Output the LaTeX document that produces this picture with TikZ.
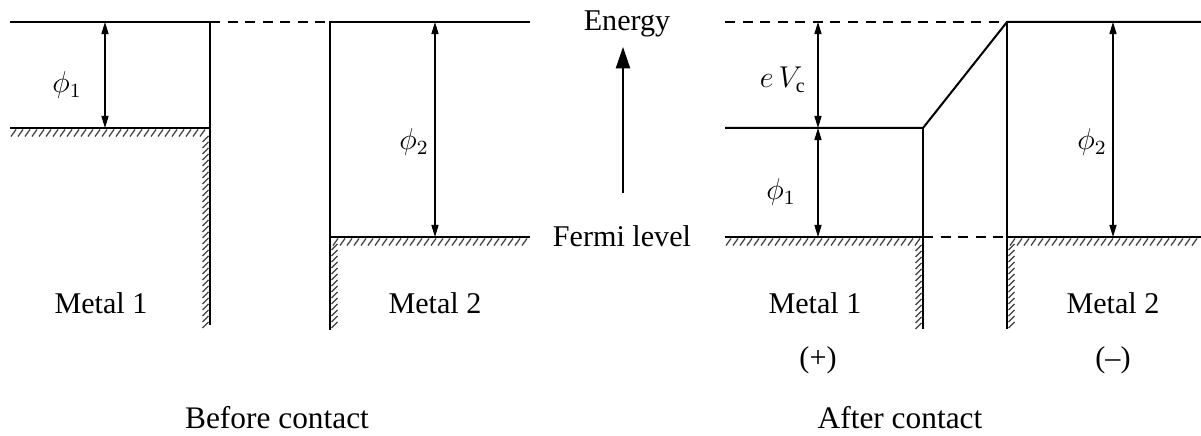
\documentclass[tikz,border=0pt]{standalone}
\usepackage{fontspec}
\setmainfont{Liberation Serif}
\usetikzlibrary{arrows.meta, positioning, calc}

\begin{document}
\begin{tikzpicture}[x=0.14mm, y=-0.14mm, line join=miter,
    level/.style={line width=0.8pt},
    gap/.style={line width=0.6pt, dash pattern=on 4pt off 3pt},
    hatch/.style={line width=0.5pt, black!75},
    dim/.style={{Triangle[length=1.7mm,width=1mm]}-{Triangle[length=1.7mm,width=1mm]},
                line width=0.5pt},
    lbl/.style={font=\fontsize{12}{14}\selectfont, inner sep=1pt},
    title/.style={font=\fontsize{12.5}{15}\selectfont, inner sep=1pt}]

  \useasboundingbox (0,0) rectangle (1201,436);

  % before contact
  \coordinate (vacA) at (10,22);
  \coordinate (topA) at (210,22);
  \coordinate (fermiA) at (10,128);
  \coordinate (edgeA) at (210,128);
  \coordinate (footA) at (210,325);
  \coordinate (topB) at (330,22);
  \coordinate (vacB) at (530,22);
  \coordinate (edgeB) at (330,237);
  \coordinate (fermiB) at (530,237);
  \coordinate (footB) at (330,330);
  \draw[level] (vacA) -- (topA) -- (footA);
  \draw[level] (fermiA) -- (edgeA);
  \draw[gap] (topA) -- (topB);
  \draw[level] (vacB) -- (topB) -- (footB);
  \draw[level] (edgeB) -- (fermiB);
  \foreach \x in {16,23,...,210} \draw[hatch] (\x,129.5) -- ++(-5,7);
  \foreach \y in {136,142,...,322} \draw[hatch] (208.5,\y) -- ++(-6,6);
  \foreach \x in {338,345,...,530} \draw[hatch] (\x,238.5) -- ++(-5,7);
  \foreach \y in {250,256,...,330} \draw[hatch] (331.5,\y) -- ++(6,-6);

  \coordinate (p1t) at (105,22);
  \coordinate (p1b) at (105,128);
  \draw[dim] (p1t) -- (p1b);
  \node[lbl] (phiA) at (67,85) {$\phi_1$};
  \coordinate (p2t) at (435,22);
  \coordinate (p2b) at (435,237);
  \draw[dim] (p2t) -- (p2b);
  \node[lbl] (phiB) at (414,142) {$\phi_2$};
  \node[lbl] (metA) at (101,303) {Metal 1};
  \node[lbl] (metB) at (435,303) {Metal 2};
  \node[title] (before) at (277,418) {Before contact};

  % energy axis
  \node[lbl] (energy) at (627,24) {Energy};
  \node[lbl] (fermi) at (622,236) {Fermi level};
  \coordinate (axlo) at (623,193);
  \coordinate (axhi) at (623,47);
  \draw[-{Triangle[length=3mm,width=2mm]}, line width=0.6pt] (axlo) -- (axhi);

  % after contact
  \coordinate (vacC) at (725,22);
  \coordinate (topD) at (1007,22);
  \coordinate (vacD) at (1201,22);
  \coordinate (lvlC) at (725,128);
  \coordinate (kneeC) at (923,128);
  \coordinate (fermiC) at (725,237);
  \coordinate (edgeC) at (923,237);
  \coordinate (footC) at (923,329);
  \coordinate (edgeD) at (1007,237);
  \coordinate (fermiD) at (1201,237);
  \coordinate (footD) at (1007,329);
  \draw[gap] (vacC) -- (topD);
  \draw[level] (lvlC) -- (kneeC) -- (topD) -- (vacD);
  \draw[level] (kneeC) -- (footC);
  \draw[level] (topD) -- (footD);
  \draw[level] (fermiC) -- (edgeC);
  \draw[gap] (edgeC) -- (edgeD);
  \draw[level] (edgeD) -- (fermiD);
  \foreach \x in {731,738,...,923} \draw[hatch] (\x,238.5) -- ++(-5,7);
  \foreach \y in {245,251,...,326} \draw[hatch] (921.5,\y) -- ++(-6,6);
  \foreach \x in {1015,1022,...,1201} \draw[hatch] (\x,238.5) -- ++(-5,7);
  \foreach \y in {250,256,...,329} \draw[hatch] (1008.5,\y) -- ++(6,-6);

  \coordinate (evt) at (818,22);
  \coordinate (evb) at (818,128);
  \coordinate (p3b) at (818,237);
  \draw[dim] (evt) -- (evb);
  \draw[dim] (evb) -- (p3b);
  \node[lbl] (ev) at (783,80) {$e\,V_{\mathrm{c}}$};
  \node[lbl] (phiC) at (781,192) {$\phi_1$};
  \coordinate (p4t) at (1113,22);
  \coordinate (p4b) at (1113,237);
  \draw[dim] (p4t) -- (p4b);
  \node[lbl] (phiD) at (1092,142) {$\phi_2$};
  \node[lbl] (metC) at (815,303) {Metal 1};
  \node[lbl] (metD) at (1113,303) {Metal 2};
  \node[lbl] (plus) at (818,360) {(+)};
  \node[lbl] (minus) at (1113,360) {(--)};
  \node[title] (after) at (900,418) {After contact};
\end{tikzpicture}
\end{document}
